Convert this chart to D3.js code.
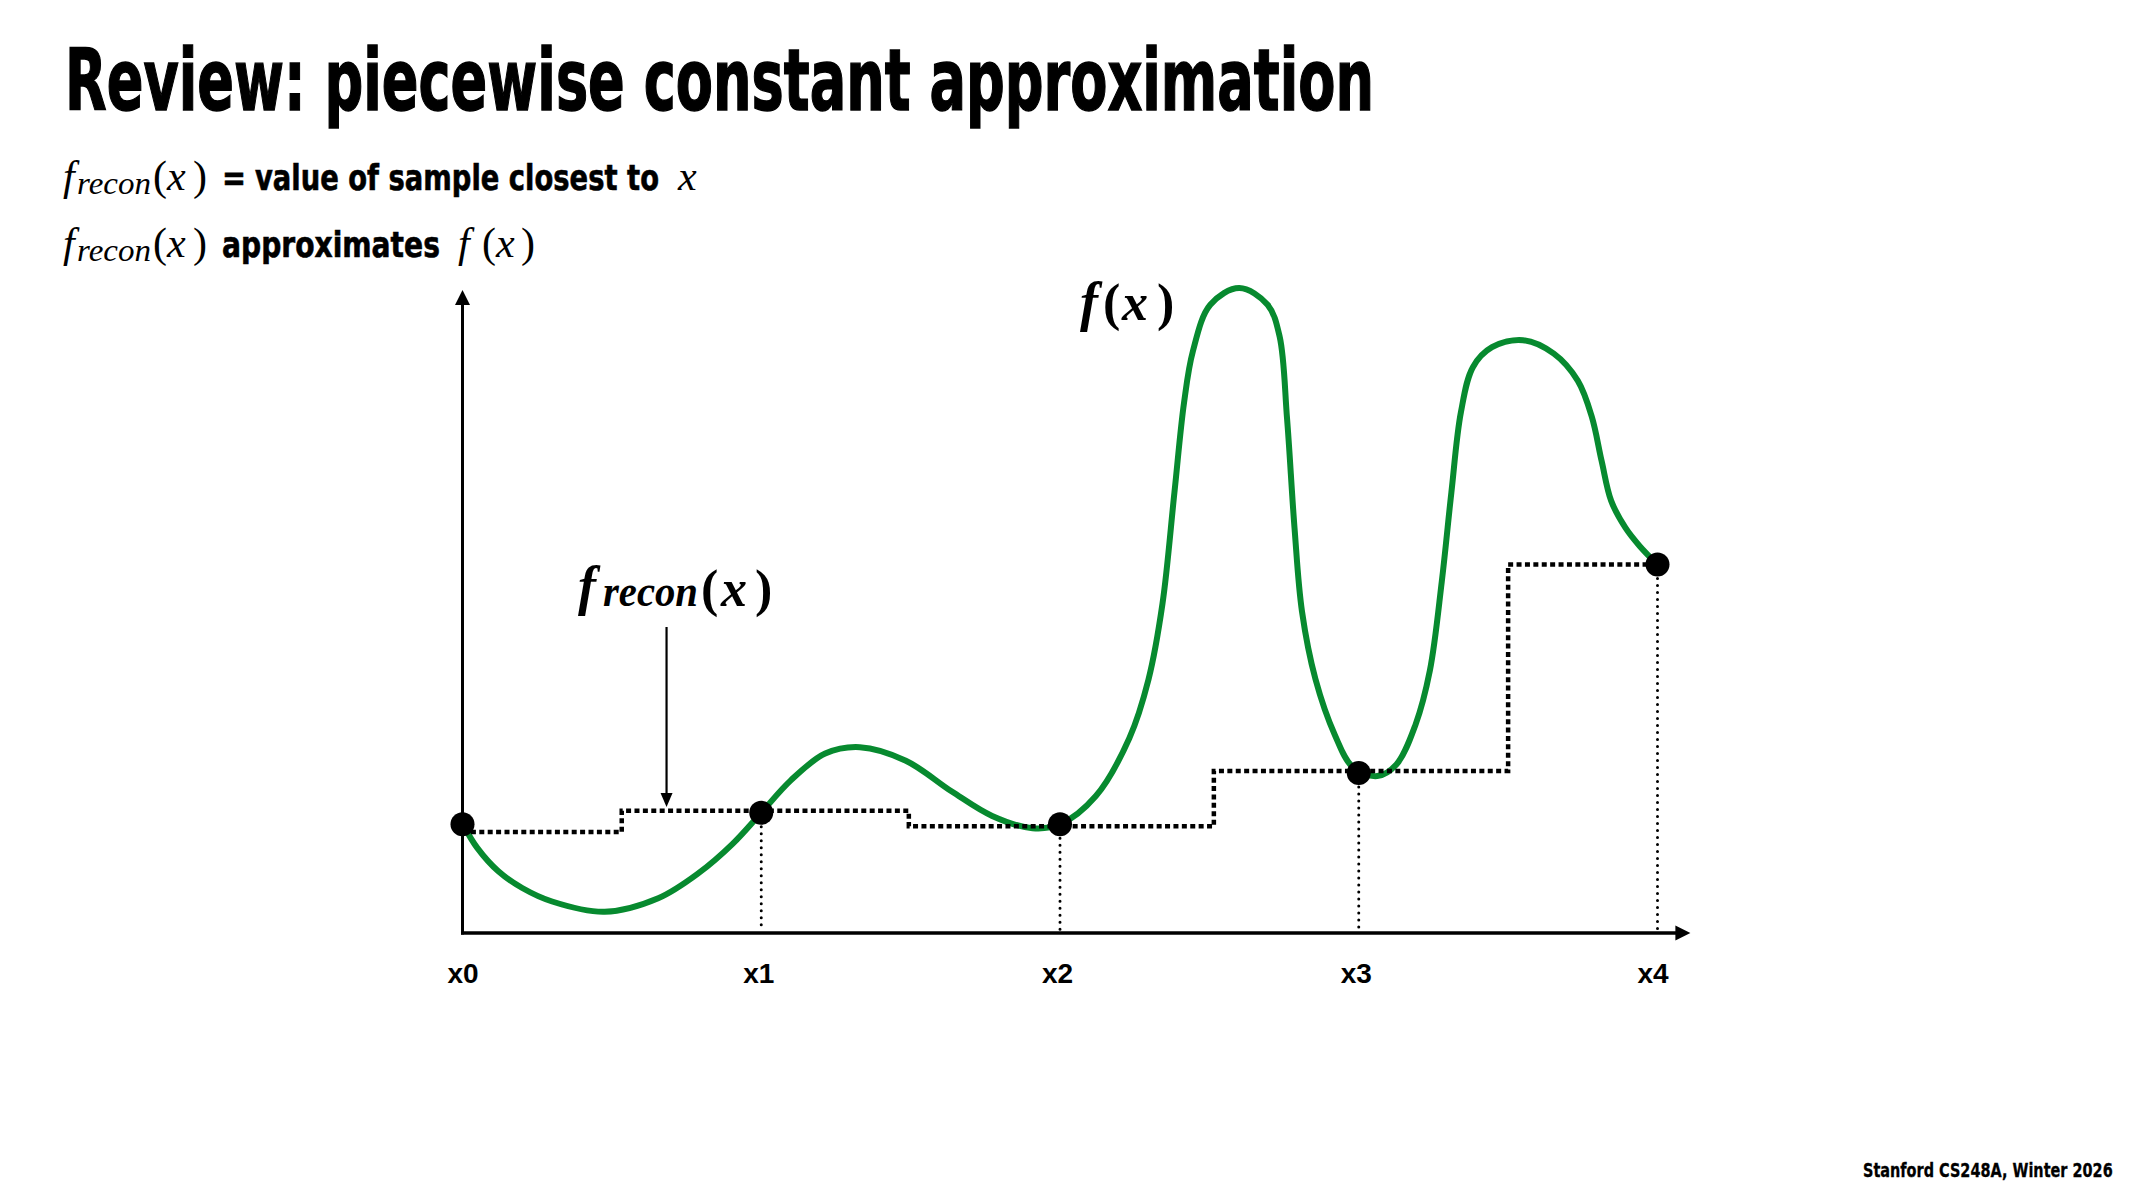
<!DOCTYPE html>
<html>
<head>
<meta charset="utf-8">
<script src="https://cdn.jsdelivr.net/npm/d3@7"></script>
<style>
  html, body { margin: 0; padding: 0; background: #fff; }
  svg { display: block; }
</style>
</head>
<body>
<svg id="chart"></svg>
<script>
// samples of f(x)
let sampleLabels = ['x0', 'x1', 'x2', 'x3', 'x4'];
let sampleX = [0, 1, 2, 3, 4];
let sampleY = [16.9, 18.7, 16.9, 24.9, 57.3];

// piecewise constant reconstruction (start of each step, level)
let stepStart = [0, 0.533, 1.494, 2.515, 3.5];
let stepLevel = [15.7, 19.0, 16.6, 25.2, 57.3];
let stepEnd = 4;

// f(x)
let curveX = [0, 0.05, 0.12, 0.2, 0.3, 0.476, 0.655, 0.79, 0.905, 1.0, 1.098, 1.214, 1.33, 1.484, 1.638, 1.773, 1.908, 2.0,
  2.12, 2.232, 2.296, 2.343, 2.383, 2.415, 2.445, 2.503, 2.60, 2.695, 2.735, 2.76, 2.785, 2.81, 2.855, 2.92, 2.98, 3.062,
  3.126, 3.19, 3.238, 3.278, 3.31, 3.342, 3.382, 3.446, 3.55, 3.653, 3.733, 3.78, 3.813, 3.845, 3.893, 3.94, 4.0];
let curveY = [17.0, 13.2, 9.6, 7.0, 4.9, 3.3, 5.4, 9.3, 13.9, 18.7, 23.7, 27.9, 28.9, 26.8, 22.0, 18.2, 16.3, 16.9,
  21.3, 30.3, 39.4, 51.2, 68.5, 82.4, 90.5, 97.7, 100.3, 97.7, 92.8, 80, 63, 50, 39.5, 30.8, 25.8, 24.4,
  26.2, 32.4, 40.8, 54.7, 68.5, 81, 88, 91.1, 92.2, 90.1, 85.9, 80.3, 73.4, 67.2, 63, 60.2, 57.3];

let width = 2133;
let height = 1200;
let green = '#078a2f';
let sans = '"Liberation Sans Narrow", "DejaVu Sans Condensed", "Open Sans", sans-serif';
let serif = '"Liberation Serif", "DejaVu Serif", serif';

let svg = d3.select('#chart')
  .attr('width', width)
  .attr('height', height);

let xScale = d3.scaleLinear().domain([0, 4]).range([462.5, 1657.5]);
let yScale = d3.scaleLinear().domain([0, 100]).range([933, 290]);

// squeeze a text horizontally so it spans w pixels from x (anchor 'start' or 'end')
function fit(t, x, y, w, anchor) {
  let n = t.node().getComputedTextLength();
  let sx = w / n;
  let left = anchor === 'end' ? x - w : x;
  t.attr('x', 0).attr('y', 0)
    .attr('transform', `translate(${left},${y}) scale(${sx},1)`);
  return t;
}

function sansText(g, str, size, stroke) {
  return g.append('text')
    .attr('font-family', sans).attr('font-weight', 'bold').attr('font-size', size)
    .attr('stroke', '#000').attr('stroke-width', stroke)
    .text(str);
}

// title
fit(sansText(svg, 'Review: piecewise constant approximation', 86, 1.4), 65, 110, 1309);

function frecon(g, y, bold, sizes, xs) {
  let w = bold ? 'bold' : 'normal';
  g.append('text').attr('x', xs[0]).attr('y', y)
    .attr('font-family', serif).attr('font-style', 'italic').attr('font-weight', w)
    .attr('font-size', sizes[0]).text('f');
  let r = g.append('text')
    .attr('font-family', serif).attr('font-style', 'italic').attr('font-weight', w)
    .attr('font-size', sizes[1]).text('recon');
  fit(r, xs[1], y + sizes[2], xs[2]);
}

function paren(g, y, bold, size, xs) {
  let w = bold ? 'bold' : 'normal';
  let t = g.append('text').attr('y', y).attr('font-family', serif).attr('font-weight', w).attr('font-size', size);
  t.append('tspan').attr('x', xs[0]).text('(');
  t.append('tspan').attr('x', xs[1]).attr('font-style', 'italic').text('x');
  t.append('tspan').attr('x', xs[2]).text(')');
}

let head = svg.append('g');
// line 1
frecon(head, 190, false, [42, 32, 4], [63, 77, 74]);
paren(head, 190, false, 42, [153, 167, 193]);
fit(sansText(head, '=', 36, 0.6), 222, 190, 24);
fit(sansText(head, 'value of sample closest to', 36, 0.6), 255, 190, 404);
head.append('text').attr('x', 678).attr('y', 190)
  .attr('font-family', serif).attr('font-style', 'italic').attr('font-size', 42).text('x');
// line 2
frecon(head, 257, false, [42, 32, 4], [63, 77, 74]);
paren(head, 257, false, 42, [153, 167, 193]);
fit(sansText(head, 'approximates', 36, 0.6), 222, 257, 218);
head.append('text').attr('x', 458).attr('y', 257)
  .attr('font-family', serif).attr('font-style', 'italic').attr('font-size', 42).text('f');
paren(head, 257, false, 42, [482, 496, 521]);

// footer
fit(sansText(svg, 'Stanford CS248A, Winter 2026', 19, 0.3), 2113, 1177, 250, 'end');

// axes
let x0 = xScale(0), y0 = yScale(0);
let yTop = yScale(100), xRight = xScale(4.11);
svg.append('line')
  .attr('x1', x0).attr('y1', y0 + 1.5).attr('x2', x0).attr('y2', yTop + 12)
  .attr('stroke', '#000').attr('stroke-width', 3);
svg.append('path')
  .attr('d', `M${x0},${yTop} L${x0 + 7.5},${yTop + 15} L${x0 - 7.5},${yTop + 15} Z`)
  .attr('fill', '#000');
svg.append('line')
  .attr('x1', x0 - 1.5).attr('y1', y0).attr('x2', xRight - 12).attr('y2', y0)
  .attr('stroke', '#000').attr('stroke-width', 3.5);
svg.append('path')
  .attr('d', `M${xRight},${y0} L${xRight - 15},${y0 - 7.5} L${xRight - 15},${y0 + 7.5} Z`)
  .attr('fill', '#000');

let xAxis = d3.axisBottom(xScale)
  .tickValues(sampleX)
  .tickFormat((d, i) => sampleLabels[i])
  .tickSize(0)
  .tickPadding(30);

let axisG = svg.append('g')
  .attr('transform', 'translate(0,' + y0 + ')')
  .call(xAxis);
axisG.select('.domain').remove();
axisG.selectAll('text')
  .attr('font-family', '"Liberation Sans", Arial, sans-serif')
  .attr('font-weight', 'bold')
  .attr('font-size', 28)
  .attr('fill', '#000')
  .attr('dx', (d, i) => i === 0 ? 0 : (i === 4 ? -5 : -3));

// f(x)
let fLine = d3.line()
  .x(d => xScale(d[0]))
  .y(d => yScale(d[1]))
  .curve(d3.curveCatmullRom.alpha(0.5));

svg.append('path')
  .datum(d3.zip(curveX, curveY))
  .attr('d', fLine)
  .attr('fill', 'none')
  .attr('stroke', green)
  .attr('stroke-width', 6)
  .attr('stroke-linejoin', 'round');

// piecewise constant reconstruction
let steps = d3.zip(stepStart, stepLevel);
steps.push([stepEnd, stepLevel[stepLevel.length - 1]]);
let stepLine = d3.line()
  .x(d => xScale(d[0]))
  .y(d => yScale(d[1]))
  .curve(d3.curveStepAfter);

svg.append('path')
  .datum(steps)
  .attr('d', stepLine)
  .attr('fill', 'none')
  .attr('stroke', '#000')
  .attr('stroke-width', 4.5)
  .attr('stroke-dasharray', '5,3.4');

// dotted drop lines
svg.selectAll('.drop')
  .data(sampleX.slice(1))
  .enter()
  .append('line')
  .attr('class', 'drop')
  .attr('x1', d => xScale(d))
  .attr('x2', d => xScale(d))
  .attr('y1', (d, i) => yScale(sampleY[i + 1]))
  .attr('y2', y0 - 2)
  .attr('stroke', '#000')
  .attr('stroke-width', 3)
  .attr('stroke-linecap', 'round')
  .attr('stroke-dasharray', '0,7');

// samples
svg.selectAll('.sample')
  .data(sampleX)
  .enter()
  .append('circle')
  .attr('class', 'sample')
  .attr('cx', d => xScale(d))
  .attr('cy', (d, i) => yScale(sampleY[i]))
  .attr('r', 12)
  .attr('fill', '#000');

// f(x) label
let lab = svg.append('g');
lab.append('text').attr('x', 1080).attr('y', 320)
  .attr('font-family', serif).attr('font-style', 'italic').attr('font-weight', 'bold')
  .attr('font-size', 54).text('f');
paren(lab, 320, true, 52, [1103, 1122, 1157]);

// frecon(x) label + arrow
frecon(lab, 604, true, [54, 44, 2], [578, 603, 95]);
paren(lab, 606, true, 52, [701, 721, 755]);

let ax = xScale(0.683);
svg.append('line')
  .attr('x1', ax).attr('x2', ax)
  .attr('y1', 627).attr('y2', 795)
  .attr('stroke', '#000').attr('stroke-width', 2.2);
svg.append('path')
  .attr('d', `M${ax},807 L${ax - 6},793 L${ax + 6},793 Z`)
  .attr('fill', '#000');
</script>
</body>
</html>
